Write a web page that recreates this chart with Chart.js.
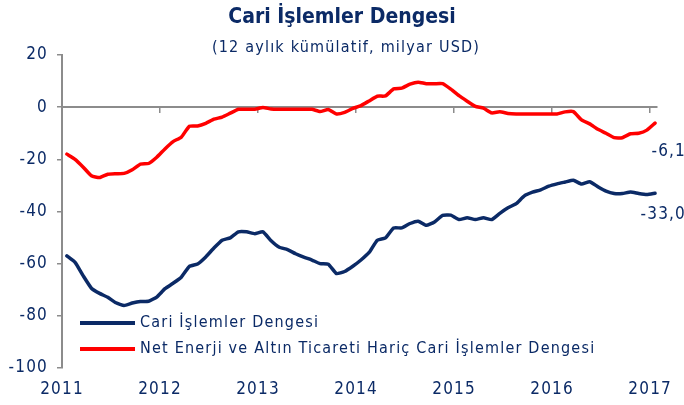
<!DOCTYPE html>
<html>
<head>
<meta charset="utf-8">
<script src="https://cdn.jsdelivr.net/npm/chart.js@4.4.0/dist/chart.umd.min.js"></script>
<style>
  html, body { margin: 0; padding: 0; background: #fff; }
</style>
</head>
<body>
<canvas id="chart" width="684" height="405"></canvas>
<script>
// Veriler: aylık, Ocak 2011 - Ocak 2017 (12 aylık kümülatif, milyar USD)
const startYear = 2011;
const yearTicks = [2011, 2012, 2013, 2014, 2015, 2016, 2017];

const cariDengesi = [
  -57, -59.5, -64.7, -69.4, -71.4, -72.9, -75, -76, -75.1, -74.5, -74.4, -72.8,
  -69.6, -67.5, -65.2, -61, -60.1, -57.4, -54, -51, -50.1, -47.8, -47.8, -48.5,
  -47.8, -51.2, -53.7, -54.6, -56.2, -57.5, -58.6, -60, -60.2, -63.8, -63, -61,
  -58.6, -55.7, -51, -50.1, -46.3, -46.3, -44.6, -43.7, -45.3, -44, -41.5, -41.4,
  -43.1, -42.4, -43.1, -42.4, -43.1, -40.7, -38.6, -37, -34, -32.6, -31.7, -30.3,
  -29.4, -28.7, -28, -29.5, -28.6, -30.5, -32.2, -33.1, -33.1, -32.5, -33.1, -33.5,
  -33.0
];

const enerjiAltinHaric = [
  -18, -20, -23, -26.3, -27, -25.7, -25.5, -25.4, -24, -21.8, -21.6, -19.2,
  -16, -13.2, -11.5, -7.3, -7.2, -6.2, -4.6, -3.8, -2.3, -0.8, -0.8, -0.8,
  -0.1, -0.7, -0.8, -0.8, -0.8, -0.8, -0.8, -1.7, -0.9, -2.6, -2, -0.5,
  0.6, 2.4, 4.2, 4.3, 7, 7.3, 8.8, 9.6, 9, 9, 9, 6.9,
  4.4, 2.3, 0.3, -0.4, -2.2, -1.8, -2.4, -2.6, -2.6, -2.6, -2.6, -2.6,
  -2.6, -1.8, -1.7, -4.9, -6.4, -8.5, -10, -11.7, -11.7, -10.2, -10, -8.8,
  -6.1
];

const seriesNames = [
  'Cari İşlemler Dengesi',
  'Net Enerji ve Altın Ticareti Hariç Cari İşlemler Dengesi'
];
const lastLabels = ['-33,0', '-6,1'];

const NAVY = '#0b2a66';
const RED = '#ff0000';
const AXIS = '#8c8c8c';
const FONT = "'Liberation Sans Narrow', 'DejaVu Sans Condensed', sans-serif";
const SPACING = '1.2px';

// ay sırası -> ondalık yıl (ay ortası)
const toPoints = arr => arr.map((v, i) => ({ x: startYear + (i + 0.6) / 12, y: v }));

// başlık, alt başlık ve harf aralığı
const titles = {
    id: 'titles',
    beforeDraw(chart) {
        chart.ctx.letterSpacing = SPACING;
    },
    afterDraw(chart) {
        const ctx = chart.ctx;
        ctx.save();
        ctx.fillStyle = NAVY;
        ctx.textAlign = 'center';
        ctx.textBaseline = 'middle';
        ctx.letterSpacing = '0px';
        ctx.font = 'bold 21px ' + FONT;
        ctx.fillText('Cari İşlemler Dengesi', 342, 18);
        ctx.letterSpacing = SPACING;
        ctx.font = '16px ' + FONT;
        ctx.fillText('(12 aylık kümülatif, milyar USD)', 346, 48);
        ctx.restore();
    }
};

// grafik içindeki lejant
const insideLegend = {
    id: 'insideLegend',
    afterDatasetsDraw(chart) {
        const ctx = chart.ctx;
        const area = chart.chartArea;
        const x0 = area.left + 18;
        ctx.save();
        ctx.letterSpacing = SPACING;
        chart.data.datasets.forEach((ds, i) => {
            const y = area.bottom - 45 + i * 26;
            ctx.strokeStyle = ds.borderColor;
            ctx.lineWidth = 4;
            ctx.beginPath();
            ctx.moveTo(x0, y);
            ctx.lineTo(x0 + 55, y);
            ctx.stroke();
            ctx.fillStyle = NAVY;
            ctx.font = '16px ' + FONT;
            ctx.textAlign = 'left';
            ctx.textBaseline = 'middle';
            ctx.fillText(ds.label, x0 + 60, y);
        });
        ctx.restore();
    }
};

// son değer etiketleri
const endLabels = {
    id: 'endLabels',
    afterDatasetsDraw(chart) {
        const ctx = chart.ctx;
        const offsets = [21, 29];
        ctx.save();
        ctx.letterSpacing = SPACING;
        ctx.fillStyle = NAVY;
        ctx.font = '17px ' + FONT;
        ctx.textAlign = 'right';
        ctx.textBaseline = 'middle';
        chart.data.datasets.forEach((ds, i) => {
            const pts = chart.getDatasetMeta(i).data;
            const last = pts[pts.length - 1];
            ctx.fillText(lastLabels[i], last.x + 31, last.y + offsets[i]);
        });
        ctx.restore();
    }
};

const setYearTicks = scale => { scale.ticks = yearTicks.map(v => ({ value: v })); };

new Chart(document.getElementById('chart'), {
    type: 'line',
    data: {
        datasets: [{
            label: seriesNames[0],
            data: toPoints(cariDengesi),
            borderColor: NAVY,
            borderWidth: 3.5,
            pointRadius: 0,
            tension: 0.15,
            borderCapStyle: 'round',
            borderJoinStyle: 'round'
        }, {
            label: seriesNames[1],
            data: toPoints(enerjiAltinHaric),
            borderColor: RED,
            borderWidth: 3.5,
            pointRadius: 0,
            tension: 0.15,
            borderCapStyle: 'round',
            borderJoinStyle: 'round'
        }]
    },
    options: {
        responsive: false,
        animation: false,
        devicePixelRatio: 1,
        layout: { padding: { top: 55, right: 27, bottom: 0, left: 0 } },
        plugins: {
            legend: { display: false },
            title: { display: false },
            tooltip: { enabled: false }
        },
        scales: {
            x: {
                type: 'linear',
                position: { y: 0 },
                min: 2011,
                max: 2017.07,
                afterBuildTicks: setYearTicks,
                ticks: { display: false },
                grid: { drawOnChartArea: false, drawTicks: true, tickLength: 5, color: AXIS, lineWidth: 1.5 },
                border: { display: true, color: AXIS, width: 2 }
            },
            x2: {
                type: 'linear',
                position: 'bottom',
                min: 2011,
                max: 2017.07,
                afterBuildTicks: setYearTicks,
                afterFit: s => { s.height = 37; },
                ticks: {
                    color: NAVY,
                    font: { family: FONT, size: 17 },
                    padding: 11,
                    maxRotation: 0,
                    autoSkip: false,
                    callback: v => String(v)
                },
                grid: { display: false, drawTicks: false },
                border: { display: false }
            },
            y: {
                min: -100,
                max: 20,
                afterFit: s => { s.width = 62; },
                ticks: {
                    stepSize: 20,
                    color: NAVY,
                    font: { family: FONT, size: 17 },
                    padding: 9
                },
                grid: { drawOnChartArea: false, drawTicks: true, tickLength: 5, color: AXIS, lineWidth: 1.5 },
                border: { color: AXIS, width: 2 }
            }
        }
    },
    plugins: [titles, insideLegend, endLabels]
});
</script>
</body>
</html>
